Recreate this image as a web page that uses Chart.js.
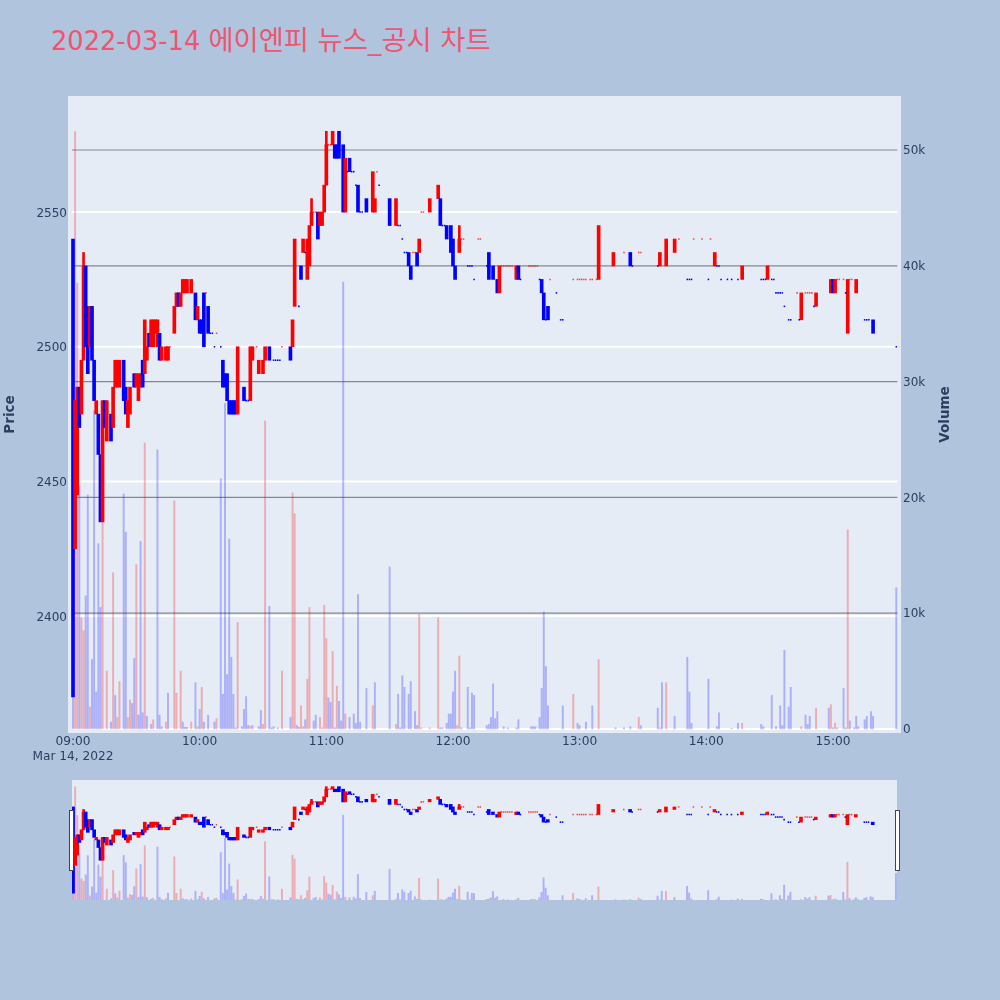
<!DOCTYPE html>
<html>
<head>
<meta charset="utf-8">
<title>에이엔피 뉴스_공시 차트</title>
<script src="https://cdn.jsdelivr.net/npm/chart.js@4"></script>
<style>
  body { margin: 0; width: 1000px; height: 1000px; background: #b0c4de; position: relative; overflow: hidden; }
  #title { position: absolute; left: 51px; top: 18px; font: 25.7px "DejaVu Sans", "Noto Sans CJK KR", sans-serif; color: #ef5470; white-space: nowrap; }
  #title span { font-size: 27.3px; }
  #main { position: absolute; left: 0; top: 0; }
  #mini { position: absolute; left: 72px; top: 780px; background: #e5ecf6; }
  .handle { position: absolute; top: 810px; width: 3px; height: 59px; background: #fff; border: 1px solid #444; }
</style>
</head>
<body>
<div id="title">2022-03-14 <span>에이엔피 뉴스_공시 차트</span></div>
<canvas id="main" width="1000" height="770"></canvas>
<canvas id="mini" width="825" height="120"></canvas>
<div class="handle" style="left: 69px"></div>
<div class="handle" style="left: 895px"></div>
<script>
// minutes after 09:00
const xTickMinutes = [0, 60, 120, 180, 240, 300, 360];
const xTickLabels = ['09:00', '10:00', '11:00', '12:00', '13:00', '14:00', '15:00'];
const dateLabel = 'Mar 14, 2022';
const priceTicks = [2400, 2450, 2500, 2550];
const volumeTicks = [0, 10000, 20000, 30000, 40000, 50000];

const candleMinutes = [
  0, 1, 2, 3, 4, 5, 6, 7, 8, 9, 10, 11, 12, 13, 14, 15, 16, 18, 19, 20,
  21, 22, 24, 25, 26, 27, 29, 30, 31, 32, 33, 34, 35, 36, 37, 38, 39, 40, 41, 42,
  44, 45, 48, 49, 50, 51, 52, 53, 54, 56, 58, 59, 60, 61, 62, 64, 71, 72, 73, 74,
  75, 76, 77, 78, 81, 84, 85, 88, 90, 91, 93, 103, 104, 105, 108, 109, 111, 112, 113, 116,
  117, 118, 119, 120, 123, 124, 125, 126, 128, 129, 131, 135, 139, 142, 143, 150, 153, 159, 160, 163,
  164, 169, 173, 174, 177, 179, 180, 181, 183, 197, 199, 201, 202, 210, 211, 222, 223, 225, 249, 256,
  264, 278, 281, 285, 304, 317, 329, 345, 352, 359, 360, 361, 367, 371, 379
];
const opens = [
  2540, 2425, 2445, 2485, 2475, 2495, 2530, 2515, 2500, 2515, 2495, 2475, 2475, 2460, 2435, 2480, 2465, 2475, 2470, 2485,
  2485, 2485, 2495, 2485, 2470, 2475, 2490, 2485, 2480, 2485, 2495, 2490, 2495, 2505, 2500, 2500, 2505, 2500, 2505, 2495,
  2495, 2495, 2505, 2515, 2520, 2515, 2520, 2520, 2520, 2520, 2520, 2510, 2510, 2510, 2520, 2515, 2495, 2490, 2490, 2480,
  2480, 2480, 2480, 2475, 2485, 2480, 2495, 2490, 2490, 2495, 2500, 2500, 2500, 2515, 2530, 2535, 2525, 2530, 2545, 2550,
  2545, 2545, 2550, 2560, 2575, 2575, 2575, 2580, 2575, 2550, 2570, 2560, 2555, 2550, 2550, 2555, 2545, 2535, 2530, 2535,
  2535, 2550, 2555, 2555, 2545, 2545, 2540, 2530, 2535, 2535, 2530, 2525, 2520, 2525, 2530, 2525, 2520, 2515, 2525, 2530,
  2535, 2530, 2530, 2535, 2530, 2525, 2525, 2510, 2515, 2520, 2525, 2520, 2505, 2520, 2510
];
const closes = [
  2370, 2480, 2485, 2470, 2495, 2530, 2500, 2490, 2515, 2495, 2480, 2480, 2460, 2435, 2480, 2470, 2480, 2465, 2485, 2495,
  2495, 2495, 2480, 2475, 2480, 2485, 2485, 2490, 2490, 2490, 2485, 2510, 2500, 2500, 2510, 2510, 2510, 2510, 2495, 2500,
  2500, 2500, 2515, 2520, 2515, 2520, 2525, 2525, 2525, 2525, 2510, 2515, 2505, 2505, 2500, 2505, 2485, 2485, 2480, 2475,
  2475, 2475, 2475, 2500, 2480, 2500, 2500, 2495, 2495, 2500, 2495, 2495, 2510, 2540, 2525, 2540, 2540, 2545, 2550, 2540,
  2550, 2550, 2560, 2575, 2580, 2570, 2570, 2570, 2550, 2570, 2565, 2550, 2550, 2565, 2555, 2545, 2555, 2530, 2525, 2530,
  2540, 2555, 2560, 2545, 2540, 2535, 2530, 2525, 2540, 2525, 2525, 2520, 2530, 2530, 2525, 2520, 2510, 2510, 2545, 2535,
  2530, 2535, 2540, 2540, 2535, 2530, 2530, 2520, 2520, 2525, 2520, 2525, 2525, 2525, 2505
];
const wickMinutes = [5, 113, 120, 183];
const wickHighs = [2535, 2555, 2580, 2545];
const wickLows = [2530, 2550, 2575, 2540];

const upDojiMinutes = [46, 63, 68, 87, 99, 114, 115, 121, 122, 144, 161, 162, 165, 166, 184, 185, 192, 193, 203, 204, 205, 206, 207, 208, 216, 217, 218, 219, 220, 226, 237, 239, 240, 241, 242, 243, 245, 246, 248, 261, 268, 269, 287, 294, 298, 302, 343, 347, 348, 349, 350, 362, 363, 365, 368, 369];
const upDojiPrices = [2500, 2520, 2505, 2500, 2500, 2550, 2550, 2575, 2575, 2565, 2535, 2535, 2550, 2550, 2540, 2540, 2540, 2540, 2530, 2530, 2530, 2530, 2530, 2530, 2530, 2530, 2530, 2530, 2530, 2525, 2525, 2525, 2525, 2525, 2525, 2525, 2525, 2525, 2525, 2535, 2535, 2535, 2540, 2540, 2540, 2540, 2520, 2520, 2520, 2520, 2520, 2525, 2525, 2525, 2525, 2525];
const downDojiMinutes = [65, 66, 67, 70, 82, 83, 95, 96, 97, 98, 107, 110, 130, 132, 133, 134, 136, 137, 145, 154, 155, 156, 157, 158, 175, 176, 187, 188, 189, 190, 196, 212, 221, 224, 229, 231, 232, 265, 277, 291, 292, 293, 301, 305, 306, 307, 310, 312, 315, 326, 327, 328, 331, 332, 333, 334, 335, 336, 337, 339, 340, 344, 351, 366, 375, 376, 377, 390];
const downDojiPrices = [2505, 2505, 2500, 2500, 2480, 2480, 2495, 2495, 2495, 2495, 2515, 2535, 2565, 2565, 2565, 2560, 2550, 2550, 2560, 2545, 2545, 2540, 2535, 2535, 2545, 2545, 2530, 2530, 2530, 2525, 2530, 2525, 2525, 2510, 2520, 2510, 2510, 2530, 2530, 2525, 2525, 2525, 2525, 2530, 2530, 2525, 2525, 2525, 2525, 2525, 2525, 2525, 2525, 2525, 2520, 2520, 2520, 2520, 2515, 2510, 2510, 2510, 2515, 2520, 2510, 2510, 2510, 2500];

const upVolumeMinutes = [1, 2, 4, 5, 8, 14, 16, 19, 21, 22, 26, 27, 30, 34, 38, 44, 48, 49, 51, 56, 59, 61, 68, 78, 84, 90, 91, 99, 104, 105, 108, 109, 111, 112, 117, 118, 119, 120, 123, 125, 129, 142, 153, 164, 165, 169, 173, 182, 183, 237, 249, 268, 278, 281, 317, 345, 352, 359, 361, 367];
const upVolumes = [51600, 38500, 9600, 8500, 1900, 18000, 5000, 13500, 1000, 4100, 1000, 2500, 14200, 24700, 800, 600, 19700, 3100, 5000, 600, 200, 3600, 900, 9200, 250, 400, 26600, 5000, 20400, 18600, 2000, 200, 4300, 10500, 1000, 100, 10700, 7800, 6700, 3700, 1300, 2000, 400, 9900, 100, 100, 9600, 300, 6300, 3000, 6000, 1000, 100, 4000, 500, 200, 1800, 2100, 500, 17200];
const downVolumeMinutes = [0, 3, 6, 7, 9, 10, 11, 12, 13, 18, 20, 24, 25, 28, 29, 31, 32, 33, 35, 37, 40, 41, 42, 45, 52, 53, 54, 58, 60, 62, 64, 67, 70, 71, 72, 73, 74, 75, 76, 77, 80, 81, 82, 83, 85, 88, 89, 93, 94, 95, 97, 103, 106, 107, 110, 114, 115, 121, 122, 124, 126, 127, 128, 131, 133, 134, 135, 136, 139, 143, 150, 154, 155, 156, 157, 159, 160, 162, 163, 174, 175, 177, 178, 179, 180, 181, 184, 187, 188, 189, 190, 196, 197, 198, 199, 200, 201, 204, 206, 210, 211, 217, 218, 219, 221, 222, 223, 224, 225, 232, 239, 240, 243, 246, 257, 261, 264, 269, 277, 279, 285, 291, 292, 293, 301, 305, 306, 312, 315, 326, 327, 331, 333, 335, 336, 337, 339, 340, 347, 348, 349, 358, 360, 362, 365, 366, 368, 370, 371, 372, 375, 376, 378, 379, 390];
const downVolumes = [3000, 21000, 11500, 20200, 6000, 27500, 3200, 16000, 10500, 600, 2900, 20300, 17000, 2200, 6100, 1200, 16200, 1400, 1100, 400, 24100, 1200, 200, 3100, 600, 150, 150, 4000, 1700, 600, 1200, 600, 21600, 3000, 28100, 4700, 16400, 6200, 3000, 100, 200, 1700, 2800, 300, 300, 200, 1600, 10600, 100, 200, 100, 1000, 300, 150, 800, 700, 1200, 2700, 2300, 100, 2400, 700, 38600, 1000, 1300, 500, 11600, 600, 3500, 4000, 14000, 3000, 100, 4600, 3600, 3000, 4100, 1500, 300, 100, 100, 500, 1300, 1300, 3200, 5000, 100, 3600, 100, 3100, 2900, 300, 400, 1000, 3900, 900, 1500, 200, 100, 100, 800, 200, 200, 200, 1000, 3500, 10100, 5400, 2000, 2000, 500, 300, 600, 2000, 100, 100, 200, 300, 1800, 4000, 1100, 6200, 3200, 500, 4300, 200, 1400, 50, 500, 400, 200, 2900, 200, 2000, 300, 6800, 1900, 3600, 1200, 400, 1100, 1800, 100, 100, 3500, 100, 700, 100, 1100, 200, 800, 1100, 1500, 1100, 12200];

const RED = '#ff0000';
const BLUE = '#0000ff';
const TEXT = '#2a3f5f';
const FONT = '"DejaVu Sans", "Noto Sans CJK KR", sans-serif';

const points = (xs, ys) => xs.map((x, i) => ({ x, y: ys[i] }));

function gridLine(value, axis, color, width) {
  return {
    type: 'line', yAxisID: axis, order: axis === 'price' || value === 0 ? 10 : 6,
    data: [{ x: -0.5, y: value }, { x: 390.5, y: value }],
    borderColor: color, borderWidth: width, pointRadius: 0,
  };
}

function markDatasets() {
  return [
    { type: 'bar', yAxisID: 'volume', order: 8, barThickness: 1.3, backgroundColor: 'rgba(255, 0, 0, 0.27)', data: points(upVolumeMinutes, upVolumes) },
    { type: 'bar', yAxisID: 'volume', order: 8, barThickness: 1.3, backgroundColor: 'rgba(0, 0, 255, 0.25)', data: points(downVolumeMinutes, downVolumes) },
    { type: 'bar', yAxisID: 'price', order: 4, barThickness: 2, backgroundColor: RED, data: wickMinutes.map((x, i) => ({ x, y: [wickLows[i], wickHighs[i]] })) },
    {
      type: 'bar', yAxisID: 'price', order: 3, barThickness: 3,
      backgroundColor: candleMinutes.map((m, i) => closes[i] > opens[i] ? RED : BLUE),
      data: candleMinutes.map((x, i) => ({ x, y: [opens[i], closes[i]] })),
    },
    { type: 'scatter', yAxisID: 'price', order: 2, pointStyle: 'rect', pointRadius: 1.1, pointBorderWidth: 0, backgroundColor: 'rgba(255, 0, 0, 0.7)', data: points(upDojiMinutes, upDojiPrices) },
    { type: 'scatter', yAxisID: 'price', order: 2, pointStyle: 'rect', pointRadius: 1.1, pointBorderWidth: 0, backgroundColor: BLUE, data: points(downDojiMinutes, downDojiPrices) },
  ];
}

const plotBackground = {
  id: 'plotBackground',
  beforeDraw(chart) {
    const { ctx, chartArea: a } = chart;
    ctx.fillStyle = '#e5ecf6';
    ctx.fillRect(a.left, a.top, a.right - a.left, a.bottom - a.top);
  },
};

// chart.js turns a right hand title the other way, so this one is drawn here
const volumeTitle = {
  id: 'volumeTitle',
  afterDraw(chart) {
    const { ctx, chartArea: a } = chart;
    ctx.save();
    ctx.translate(945, (a.top + a.bottom) / 2);
    ctx.rotate(-Math.PI / 2);
    ctx.font = 'bold 13.5px ' + FONT;
    ctx.fillStyle = TEXT;
    ctx.textAlign = 'center';
    ctx.textBaseline = 'middle';
    ctx.fillText('Volume', 0, 0);
    ctx.restore();
  },
};

const priceRange = { min: 2356.6, max: 2593.1 };
const volumeRange = { min: -345, max: 54663 };

const baseOptions = {
  responsive: false,
  animation: false,
  devicePixelRatio: 1,
  datasets: { bar: { grouped: false } },
  plugins: { legend: { display: false }, tooltip: { enabled: false } },
};
const noGrid = { display: false, drawTicks: false };

new Chart(document.getElementById('main'), {
  type: 'bar',
  data: {
    datasets: [
      ...priceTicks.map(v => gridLine(v, 'price', '#ffffff', 2)),
      gridLine(0, 'volume', '#ffffff', 2),
      ...volumeTicks.slice(1).map(v => gridLine(v, 'volume', 'rgba(70, 70, 75, 0.6)', 1.2)),
      ...markDatasets(),
    ],
  },
  options: {
    ...baseOptions,
    layout: { autoPadding: false, padding: { top: 96 } },
    scales: {
      x: {
        type: 'linear', offset: false, min: -2.37, max: 392.23,
        grid: noGrid, border: { display: false },
        afterFit(s) { s.height = 37; },
        afterBuildTicks(s) { s.ticks = xTickMinutes.map(value => ({ value })); },
        ticks: {
          autoSkip: false, maxRotation: 0, padding: 2, color: TEXT, font: { family: FONT, size: 12.2 },
          callback(value) {
            const label = xTickLabels[xTickMinutes.indexOf(value)];
            return value === 0 ? [label, dateLabel] : label;
          },
        },
      },
      price: {
        type: 'linear', axis: 'y', position: 'left', ...priceRange,
        grid: noGrid, border: { display: false },
        afterFit(s) { s.width = 68; },
        afterBuildTicks(s) { s.ticks = priceTicks.map(value => ({ value })); },
        // empty first line nudges the label down onto the grid line
        ticks: { padding: 1, color: TEXT, font: { family: FONT, size: 12, lineHeight: '3px' }, callback: v => ['', String(v)] },
        title: { display: true, text: 'Price', color: TEXT, font: { family: FONT, size: 13.5, weight: 'bold' }, padding: { top: 2, bottom: 0 } },
      },
      volume: {
        type: 'linear', axis: 'y', position: 'right', ...volumeRange,
        grid: noGrid, border: { display: false },
        afterFit(s) { s.width = 99; },
        afterBuildTicks(s) { s.ticks = volumeTicks.map(value => ({ value })); },
        ticks: { padding: 2, color: TEXT, font: { family: FONT, size: 12, lineHeight: '2px' }, callback: v => ['', v === 0 ? '0' : v / 1000 + 'k'] },
      },
    },
  },
  plugins: [plotBackground, volumeTitle],
});

// range slider underneath, same marks at the whole session width
new Chart(document.getElementById('mini'), {
  type: 'bar',
  data: { datasets: markDatasets() },
  options: {
    ...baseOptions,
    layout: { autoPadding: false },
    scales: {
      x: { type: 'linear', display: false, offset: false, min: -0.5, max: 390.5 },
      price: { type: 'linear', axis: 'y', display: false, position: 'left', ...priceRange },
      volume: { type: 'linear', axis: 'y', display: false, position: 'right', min: 0, max: volumeRange.max },
    },
  },
});
</script>
</body>
</html>
